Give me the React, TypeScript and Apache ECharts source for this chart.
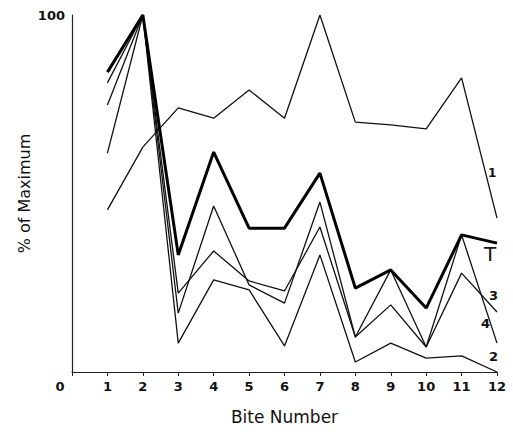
import React, { useEffect, useRef } from "react";
import * as echarts from "echarts";

const bites = [1, 2, 3, 4, 5, 6, 7, 8, 9, 10, 11, 12];
const xTickLabels = ["0", "1", "2", "3", "4", "5", "6", "7", "8", "9", "10", "11", "12"];
const seriesT = [84, 100, 32.8, 61.6, 40.3, 40.3, 55.7, 23.5, 28.6, 17.9, 38.4, 36.1];
const series1 = [45.4, 63, 74, 71.1, 79, 71.1, 100, 70, 69.2, 68.1, 82.4, 43.1];
const series2 = [61.3, 100, 8.1, 25.8, 23, 7.3, 32.8, 2.8, 8.1, 3.9, 4.5, 0];
const series3 = [81, 100, 22.1, 33.9, 25.5, 22.7, 40.6, 9.8, 18.8, 7, 27.7, 16.8];
const series4 = [74.8, 100, 16.5, 46.5, 24.4, 19.3, 47.6, 9.8, 28.6, 7, 38.4, 8.1];

const FONT = "'DejaVu Sans', sans-serif";

export default function App() {
  const ref = useRef<HTMLDivElement>(null);
  useEffect(() => {
    document.body.style.margin = "0";
    if (!ref.current) return;
    const chart = echarts.init(ref.current, null, { renderer: "svg" });
    const pairs = (vals: number[]) => bites.map((b, i) => [b, vals[i]]);
    const thin = (name: string, vals: number[]) => ({
      name,
      type: "line",
      data: pairs(vals),
      symbol: "none",
      lineStyle: { color: "#111", width: 1.3 },
      z: 2,
    });
    chart.setOption({
      animation: false,
      backgroundColor: "#fff",
      grid: { left: 72, right: 16, top: 15, bottom: 60, containLabel: false },
      xAxis: {
        type: "value",
        min: 0,
        max: 12,
        interval: 1,
        name: "Bite Number",
        nameLocation: "middle",
        nameGap: 36,
        nameTextStyle: { fontFamily: FONT, fontSize: 17, color: "#111" },
        axisLine: { show: true, lineStyle: { color: "#222", width: 1.2 } },
        axisTick: { show: true, length: 4, lineStyle: { color: "#222" } },
        splitLine: { show: false },
        axisLabel: {
          margin: 8,
          fontFamily: FONT,
          fontSize: 13,
          fontWeight: "bold",
          color: "#111",
          formatter: (v: number) => (v === 0 ? "{z|" + xTickLabels[0] + "}" : xTickLabels[v]),
          rich: { z: { padding: [0, 24, 0, 0], fontFamily: FONT, fontSize: 13, fontWeight: "bold", color: "#111" } },
        },
      },
      yAxis: {
        type: "value",
        min: 0,
        max: 100,
        interval: 100,
        name: "% of Maximum",
        nameLocation: "middle",
        nameGap: 40,
        nameMoveOverlap: false,
        nameTextStyle: { fontFamily: FONT, fontSize: 16, color: "#111" },
        axisLine: { show: true, lineStyle: { color: "#222", width: 1.2 } },
        axisTick: { show: false },
        splitLine: { show: false },
        axisLabel: {
          margin: 7,
          fontFamily: FONT,
          fontSize: 13,
          fontWeight: "bold",
          color: "#111",
          formatter: (v: number) => (v === 100 ? "100" : ""),
        },
      },
      series: [
        thin("1", series1),
        thin("2", series2),
        thin("3", series3),
        thin("4", series4),
        {
          name: "T",
          type: "line",
          data: pairs(seriesT),
          symbol: "none",
          lineStyle: { color: "#000", width: 3 },
          z: 3,
        },
      ],
      graphic: [
        { type: "text", left: 488, top: 167, style: { text: "1", font: "bold 12px " + FONT, fill: "#111" } },
        { type: "text", left: 484, top: 244, style: { text: "T", font: "20px " + FONT, fill: "#111" } },
        { type: "text", left: 489, top: 289, style: { text: "3", font: "bold 13px " + FONT, fill: "#111" } },
        { type: "text", left: 481, top: 317, style: { text: "4", font: "bold 13px " + FONT, fill: "#111" } },
        { type: "text", left: 489, top: 350, style: { text: "2", font: "bold 13px " + FONT, fill: "#111" } },
      ],
    });
    return () => chart.dispose();
  }, []);
  return <div ref={ref} style={{ width: 513, height: 432 }} />;
}
